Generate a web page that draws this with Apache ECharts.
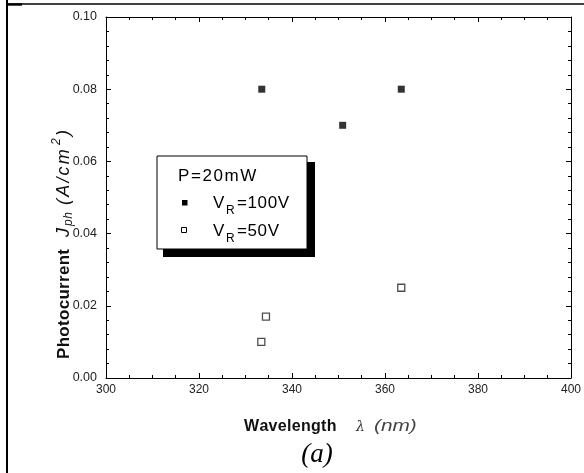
<!DOCTYPE html>
<html>
<head>
<meta charset="utf-8">
<script src="https://cdn.jsdelivr.net/npm/echarts@6/dist/echarts.min.js"></script>
<style>
html,body{margin:0;padding:0;background:#fff;}
#chart{width:584px;height:473px;}
</style>
</head>
<body>
<div id="chart"></div>
<script>
// Data
const wavelength100 = [333.5, 350.9, 363.5];
const current100    = [0.080, 0.070, 0.080];
const wavelength50  = [333.4, 334.4, 363.5];
const current50     = [0.010, 0.017, 0.025];
const xTickValues = [300, 320, 340, 360, 380, 400];
const yTickLabels = ['0.00', '0.02', '0.04', '0.06', '0.08', '0.10'];
const legendHeader = 'P=20mW';
const legendNames = ['=100V', '=50V'];

const pts100 = wavelength100.map((x, i) => [x, current100[i]]);
const pts50 = wavelength50.map((x, i) => [x, current50[i]]);

const FONT = 'Liberation Sans, Arial, sans-serif';
const mctx = document.createElement('canvas').getContext('2d');
// lay out a string char by char with extra letter spacing
function spaced(str, x, y, font, sp, extra) {
  mctx.font = font;
  const els = [];
  let cx = x;
  for (const ch of str) {
    els.push({type: 'text', x: cx, y: y,
      style: Object.assign({text: ch, font: font, fill: '#000', textVerticalAlign: 'middle'}, extra || {})});
    cx += mctx.measureText(ch).width + sp;
  }
  return els;
}

const chart = echarts.init(document.getElementById('chart'), null, {renderer: 'canvas'});

const baseX = {
  type: 'value', min: 300, max: 400, interval: 20,
  axisLine: {show: true, onZero: false, lineStyle: {color: '#000', width: 1}},
  axisTick: {show: true, inside: true, length: 5, lineStyle: {color: '#000'}},
  minorTick: {show: true, splitNumber: 4, length: 3, lineStyle: {color: '#000'}},
  splitLine: {show: false}, minorSplitLine: {show: false}
};
const baseY = {
  type: 'value', min: 0, max: 0.1, interval: 0.02,
  axisLine: {show: true, onZero: false, lineStyle: {color: '#000', width: 1}},
  axisTick: {show: true, inside: true, length: 5, lineStyle: {color: '#000'}},
  minorTick: {show: true, splitNumber: 5, length: 3, lineStyle: {color: '#000'}},
  splitLine: {show: false}, minorSplitLine: {show: false}
};

const LF = '17px ' + FONT;
const LX = 157, LY = 156;
const legendEls = [].concat(
  [{type: 'rect', shape: {x: LX + 6, y: LY + 6, width: 152, height: 95}, style: {fill: '#000'}},
   {type: 'rect', shape: {x: LX, y: LY, width: 150, height: 93}, style: {fill: '#fff', stroke: '#000', lineWidth: 1}}],
  spaced(legendHeader, 178, 176, LF, 1.6),
  [{type: 'rect', shape: {x: 182, y: 200, width: 5.5, height: 5.5}, style: {fill: '#000'}}],
  spaced('V', 213, 203, LF, 0),
  spaced('R', 226, 211, '12px ' + FONT, 0),
  spaced(legendNames[0], 237, 203, LF, 0.6),
  [{type: 'rect', shape: {x: 181.5, y: 227.5, width: 5, height: 5}, style: {fill: '#fff', stroke: '#000', lineWidth: 1}}],
  spaced('V', 213, 231, LF, 0),
  spaced('R', 226, 239, '12px ' + FONT, 0),
  spaced(legendNames[1], 237, 231, LF, 0.6)
);

const yTitle = [].concat(
  spaced('Photocurrent', 0, 0, 'bold 17px ' + FONT, 0.3, {fill: '#111'}),
  spaced('J', 122, 0, 'italic 18px ' + FONT, 0, {fill: '#111'}),
  spaced('ph', 133, 5, 'italic 12px ' + FONT, 0.5, {fill: '#111'}),
  spaced('(A/cm', 154, 0, 'italic 18px ' + FONT, 2.2, {fill: '#111'}),
  spaced('2', 214, -7, 'italic 12px ' + FONT, 0, {fill: '#111'}),
  spaced(')', 223, 0, 'italic 18px ' + FONT, 0, {fill: '#111'})
);

chart.setOption({
  animation: false,
  backgroundColor: '#fff',
  grid: {left: 106, right: 12, top: 17, bottom: 95, containLabel: false},
  xAxis: [
    Object.assign({}, baseX, {position: 'bottom',
      axisLabel: {show: true, margin: 6, fontSize: 12, color: '#222', fontFamily: FONT,
        formatter: v => xTickValues.indexOf(v) >= 0 ? String(v) : ''}}),
    Object.assign({}, baseX, {position: 'top', axisLabel: {show: false}})
  ],
  yAxis: [
    Object.assign({}, baseY, {position: 'left',
      axisLabel: {show: true, margin: 9, fontSize: 12.5, color: '#222', fontFamily: FONT,
        formatter: v => yTickLabels[Math.round(v / 0.02)]}}),
    Object.assign({}, baseY, {position: 'right', axisLabel: {show: false}})
  ],
  series: [
    {type: 'scatter', name: 'VR=100V', data: pts100, symbol: 'rect', symbolSize: 7,
     itemStyle: {color: '#000'}},
    {type: 'scatter', name: 'VR=50V', data: pts50, symbol: 'rect', symbolSize: 7,
     itemStyle: {color: '#fff', borderColor: '#222', borderWidth: 1.3}}
  ],
  graphic: [].concat(
    [
      {type: 'line', shape: {x1: 7, y1: 4, x2: 584, y2: 4}, style: {stroke: '#000', lineWidth: 1.3}},
      {type: 'line', shape: {x1: 7, y1: 0, x2: 7, y2: 473}, style: {stroke: '#000', lineWidth: 2}},
      {type: 'rect', shape: {x: 8, y: 3.3, width: 14, height: 2.4}, style: {fill: '#000'}}
    ],
    legendEls,
    spaced('Wavelength', 244, 427, 'bold 16px ' + FONT, 0.3, {fill: '#111'}),
    [
      {type: 'text', x: 356, y: 427, style: {text: 'λ', font: 'italic 14px DejaVu Serif, serif', fill: '#333', textVerticalAlign: 'middle'}},
      {type: 'text', x: 374, y: 427, scaleX: 1.3, originX: 0, originY: 0, style: {text: '(nm)', font: 'italic 16px ' + FONT, fill: '#444', textVerticalAlign: 'middle'}},
      {type: 'text', x: 317, y: 455, style: {text: '(a)', font: 'italic 27px Liberation Serif, Times New Roman, serif', fill: '#000', textAlign: 'center', textVerticalAlign: 'middle'}},
      {type: 'group', x: 64, y: 359, rotation: Math.PI / 2, children: yTitle}
    ]
  )
});
</script>
</body>
</html>
